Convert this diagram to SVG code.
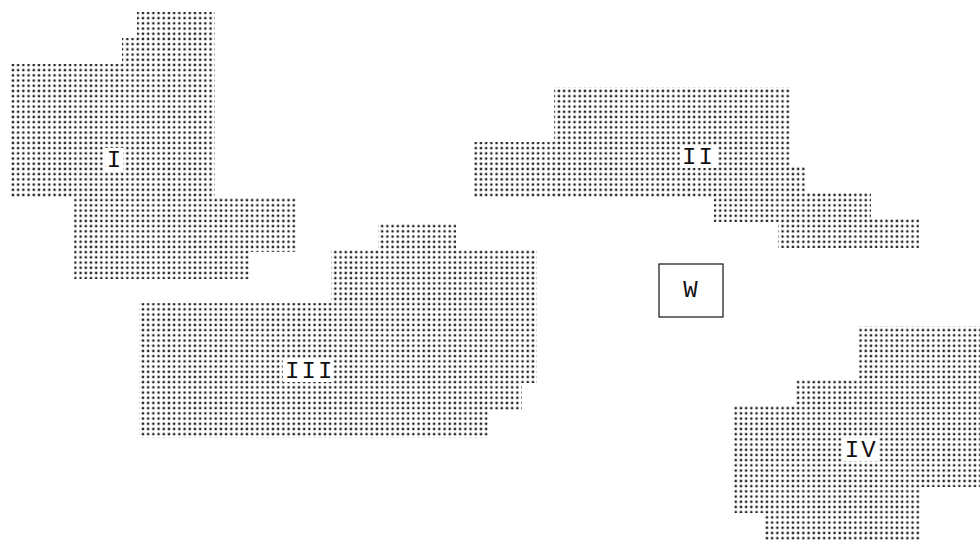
<svg xmlns="http://www.w3.org/2000/svg" width="980" height="541" viewBox="0 0 980 541">
<defs>
<pattern id="dots" patternUnits="userSpaceOnUse" x="0" y="0" width="5.2" height="5.2">
<rect x="1.4" y="1.4" width="2.3" height="2.3" fill="#1a1a1a"/>
</pattern>
<style>
.region{fill:url(#dots);stroke:none}
.gap{fill:#fff;stroke:none}
.lbl{font-family:"Liberation Mono","DejaVu Sans Mono",monospace;font-size:24px;letter-spacing:2px;fill:#111}
.box{fill:#fff;stroke:#111;stroke-width:1.2}
</style>
</defs>
<rect width="980" height="541" fill="#fff"/>
<g id="region-I">
<polygon class="region" points="137,12 215,12 215,198 297,198 297,252 249,252 249,279 74,279 74,198 10,198 10,64 122,64 122,38 137,38"/>
<rect class="gap" x="105" y="148" width="18" height="23"/>
<text class="lbl" x="106.8" y="167">I</text>
</g>
<g id="region-II">
<polygon class="region" points="554,87 791,87 791,167 807,167 807,193 871,193 871,219 919,219 919,248 778,248 778,222 714,222 714,198 474,198 474,142 554,142"/>
<rect class="gap" x="680" y="145" width="37" height="23"/>
<text class="lbl" x="682.1" y="164">II</text>
</g>
<g id="region-III">
<polygon class="region" points="378,223 456,223 456,249 537,249 537,383 522,383 522,410 489,410 489,438 139,438 139,303 331,303 331,249 378,249"/>
<rect class="gap" x="283" y="358" width="50" height="24"/>
<text class="lbl" x="285.1" y="378">III</text>
</g>
<g id="region-IV">
<polygon class="region" points="858,326 980,326 980,487 921,487 921,541 764,541 764,513 732,513 732,406 795,406 795,379 858,379"/>
<rect class="gap" x="842" y="438" width="37" height="23"/>
<text class="lbl" x="844.8" y="457">IV</text>
</g>
<g id="node-W">
<rect class="box" x="659" y="264" width="64" height="53"/>
<text class="lbl" x="683.3" y="297">W</text>
</g>
<g id="connectors"></g>
</svg>
